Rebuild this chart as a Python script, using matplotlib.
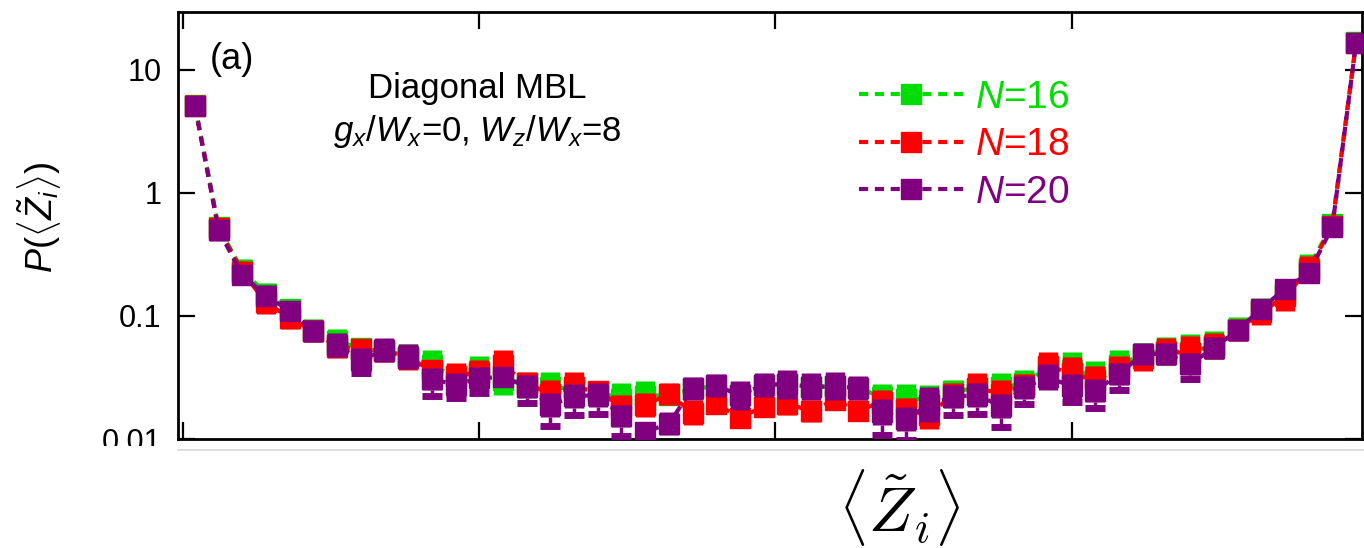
import numpy as np
import matplotlib
matplotlib.use("Agg")
import matplotlib.pyplot as plt
from matplotlib.patches import Rectangle
from matplotlib.lines import Line2D

plt.rcParams['font.family'] = ['Liberation Sans', 'DejaVu Sans']
plt.rcParams['mathtext.fontset'] = 'custom'
plt.rcParams['mathtext.rm'] = 'Liberation Sans'
plt.rcParams['mathtext.it'] = 'Liberation Sans:italic'

# bin centres of <Z_i>
z_bins = np.linspace(-0.98, 0.98, 50)

# N=16 (green): lower / upper edge of each bar
n16_lo = [4.3, 0.43, 0.19, 0.125, 0.095, 0.063, 0.05, 0.045, 0.043, 0.038,
          0.030, 0.026, 0.027, 0.0228, 0.024, 0.020, 0.020, 0.020, 0.016, 0.017,
          0.019, 0.021, 0.022, 0.018, 0.022, 0.022, 0.021, 0.021, 0.021, 0.017,
          0.016, 0.016, 0.020, 0.020, 0.020, 0.022, 0.030, 0.026, 0.024, 0.030,
          0.040, 0.040, 0.036, 0.045, 0.064, 0.090, 0.12, 0.19, 0.46, 14.0]
n16_hi = [6.3, 0.64, 0.291, 0.184, 0.135, 0.094, 0.0784, 0.0662, 0.064, 0.059,
          0.0528, 0.040, 0.0476, 0.040, 0.034, 0.0348, 0.033, 0.029, 0.0283, 0.0298,
          0.027, 0.031, 0.033, 0.029, 0.034, 0.035, 0.033, 0.034, 0.032, 0.0282,
          0.0282, 0.0274, 0.0301, 0.033, 0.0345, 0.0363, 0.048, 0.0512, 0.0427, 0.0528,
          0.060, 0.0678, 0.0713, 0.0759, 0.0975, 0.14, 0.20, 0.318, 0.675, 20.0]

# N=18 (red)
n18_lo = [4.25, 0.42, 0.185, 0.1038, 0.0779, 0.062, 0.0453, 0.045, 0.0426, 0.0364,
          0.030, 0.026, 0.027, 0.030, 0.023, 0.018, 0.020, 0.020, 0.015, 0.0152,
          0.0189, 0.0130, 0.0167, 0.0130, 0.0152, 0.0156, 0.0137, 0.0173, 0.0140, 0.016,
          0.014, 0.0121, 0.019, 0.020, 0.018, 0.022, 0.030, 0.025, 0.023, 0.030,
          0.0358, 0.040, 0.036, 0.045, 0.063, 0.0845, 0.110, 0.185, 0.45, 13.9]
n18_hi = [6.2, 0.63, 0.282, 0.160, 0.120, 0.092, 0.070, 0.0638, 0.064, 0.058,
          0.0434, 0.0412, 0.0438, 0.0528, 0.0348, 0.0301, 0.0348, 0.0296, 0.0228, 0.0235,
          0.0283, 0.0207, 0.0221, 0.0172, 0.0221, 0.0242, 0.0207, 0.025, 0.0207, 0.0249,
          0.0217, 0.020, 0.0286, 0.0341, 0.0301, 0.034, 0.0512, 0.0466, 0.0391, 0.0472,
          0.058, 0.0657, 0.0691, 0.0722, 0.095, 0.135, 0.19, 0.305, 0.654, 19.8]

# N=20 (purple)
n20_lo = [4.25, 0.41, 0.179, 0.1205, 0.0916, 0.0618, 0.0467, 0.0352, 0.0426, 0.0368,
          0.025, 0.0221, 0.025, 0.0266, 0.0214, 0.0152, 0.0177, 0.0183, 0.0126, 0.0095,
          0.0107, 0.0207, 0.0221, 0.0172, 0.0221, 0.0213, 0.0207, 0.0207, 0.0207, 0.0129,
          0.0117, 0.0137, 0.0177, 0.0182, 0.0147, 0.0213, 0.0249, 0.0213, 0.0200, 0.0274,
          0.0398, 0.0398, 0.033, 0.0444, 0.063, 0.0957, 0.138, 0.185, 0.449, 13.8]
n20_hi = [6.18, 0.60, 0.260, 0.177, 0.1324, 0.0928, 0.0722, 0.0546, 0.0658, 0.0591,
          0.0375, 0.0346, 0.0387, 0.0387, 0.0331, 0.0235, 0.0280, 0.0283, 0.0189, 0.0138,
          0.0165, 0.0321, 0.0336, 0.0298, 0.0346, 0.0367, 0.0341, 0.0348, 0.0325, 0.0211,
          0.0182, 0.0265, 0.0274, 0.0286, 0.0234, 0.0325, 0.0406, 0.0337, 0.0306, 0.0411,
          0.0607, 0.0607, 0.0502, 0.0678, 0.0927, 0.138, 0.200, 0.266, 0.625, 19.7]
# lower whisker caps of N=20 (nan = none)
nan = np.nan
n20_cap = [nan, nan, nan, nan, nan, nan, nan, 0.0342, nan, nan,
           0.0225, 0.0215, 0.0238, nan, 0.0197, 0.0127, 0.0158, 0.0161, 0.0106, nan,
           nan, nan, nan, nan, nan, nan, nan, nan, nan, 0.0108,
           0.0099, nan, 0.0156, 0.0159, 0.0125, 0.0194, nan, 0.0200, 0.0180, 0.0249,
           nan, nan, 0.031, nan, nan, nan, nan, nan, nan, nan]

series = [('$N$=16', '#00dd00', n16_lo, n16_hi),
          ('$N$=18', '#ff0000', n18_lo, n18_hi),
          ('$N$=20', '#800080', n20_lo, n20_hi)]

fig = plt.figure(figsize=(13.64, 5.48), dpi=100)
ax = fig.add_axes([0.1305, 0.1989, 0.868, 0.779])

for i, (lab, col, lo, hi) in enumerate(series):
    lo = np.array(lo); hi = np.array(hi)
    mid = np.sqrt(lo * hi)
    ax.plot(z_bins, mid, ls=(0, (2.2, 1.6)), lw=3, color=col, marker='s',
            ms=14, mec=col, mfc=col, label=lab, zorder=2 + 2 * i)
    ax.vlines(z_bins, lo, hi, color=col, lw=14, zorder=3 + 2 * i)
    if lab.endswith('20'):
        cap = np.array(n20_cap)
        ax.vlines(z_bins, cap, lo, color=col, lw=2.5, zorder=3 + 2 * i)
        ax.plot(z_bins, cap, ls='none', marker='_', ms=14, mew=5, color=col,
                zorder=3 + 2 * i, clip_on=True)

ax.set_yscale('log')
ax.set_xlim(-1.0085, 0.990)
ax.set_ylim(0.01, 29.5)
ax.set_xticks([-1, -0.5, 0, 0.5])
ax.set_yticks([0.01, 0.1, 1, 10])
ax.set_yticklabels(['0.01', '0.1', '1', '10'])
ax.yaxis.set_minor_locator(matplotlib.ticker.NullLocator())
ax.tick_params(which='major', direction='in', length=12, width=1.6,
               top=True, right=True, labelsize=22, pad=12)
ax.tick_params(axis='x', labelbottom=False)
for s in ax.spines.values():
    s.set_linewidth(2)

ax.text(0.027, 0.888, '(a)', transform=ax.transAxes, fontsize=26,
        ha='left', va='center')
ax.text(0.253, 0.82, 'Diagonal MBL', transform=ax.transAxes, fontsize=25,
        ha='center', va='center')
ax.text(0.253, 0.72, '$g_x/W_x$=0, $W_z/W_x$=8', transform=ax.transAxes,
        fontsize=25, ha='center', va='center')

leg = ax.legend(loc='upper left', bbox_to_anchor=(0.575, 0.842), frameon=False,
                fontsize=28, handlelength=2.7, handletextpad=0.3,
                labelspacing=0.3, borderpad=0, borderaxespad=0,
                numpoints=1, labelcolor='linecolor')

# white strip hiding the bottom tick labels
fig.patches.append(Rectangle((0, 0), 1, 0.186, transform=fig.transFigure,
                             facecolor='white', edgecolor='none', zorder=10))
fig.lines.append(Line2D([0.1305, 1], [0.1797, 0.1797], transform=fig.transFigure,
                        color='#d8d8d8', lw=1.2, zorder=11))

fig.text(0.029, 0.604, r'$P(\langle\tilde{Z}_i\rangle)$', rotation=90,
         fontsize=26, ha='center', va='center')
fig.text(0.659, 0.029, r'$\langle\tilde{Z}_i\rangle$', fontsize=46,
         ha='center', va='baseline', math_fontfamily='cm', zorder=12)

fig.savefig('out.png', dpi=100)
